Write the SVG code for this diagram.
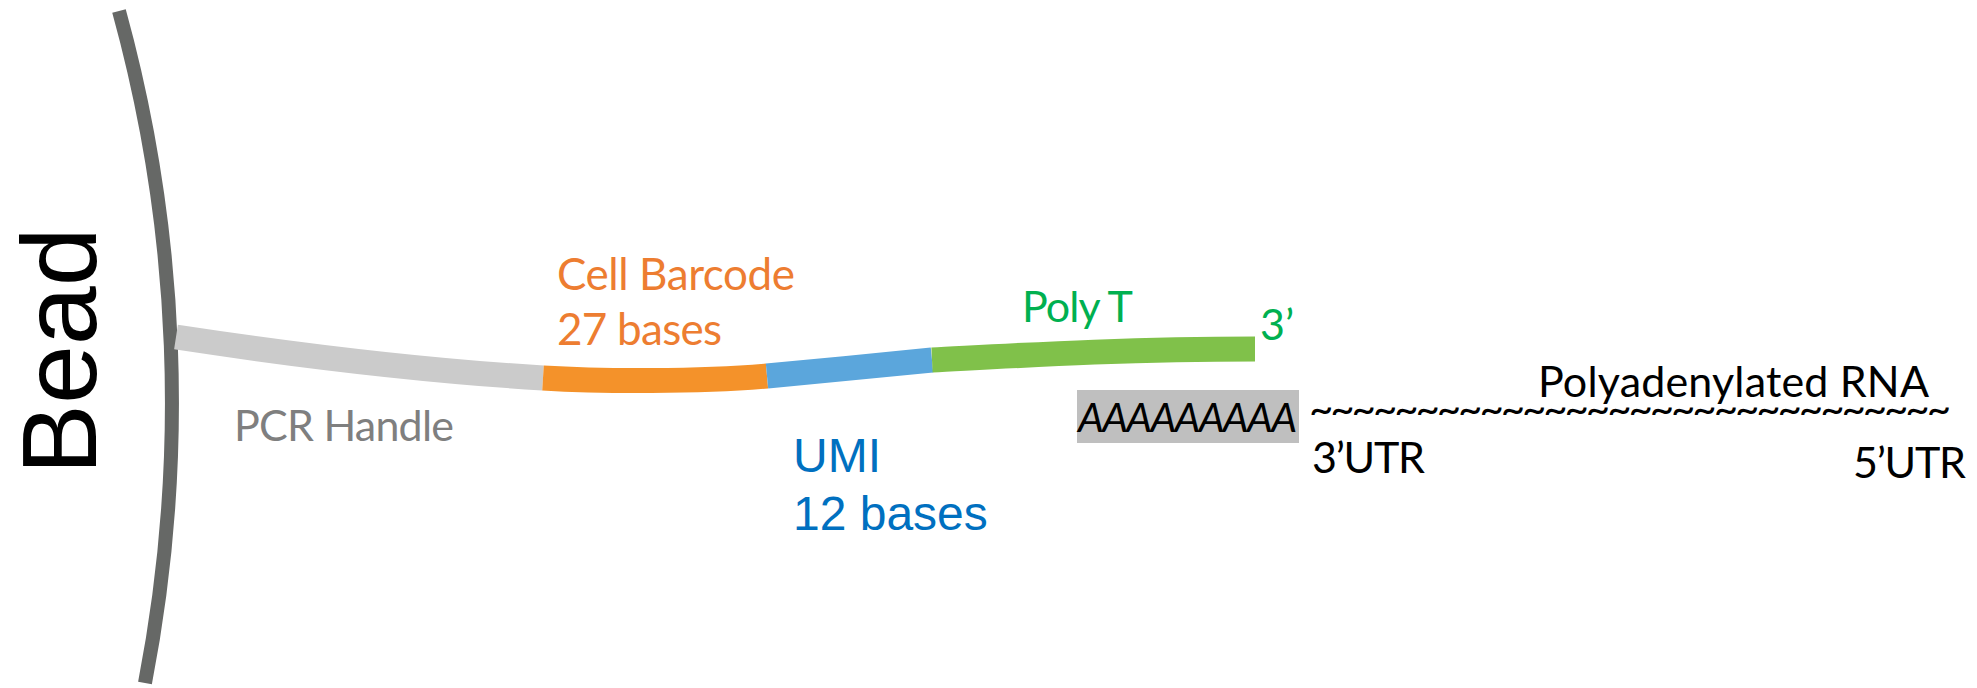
<svg xmlns="http://www.w3.org/2000/svg" width="1977" height="688" viewBox="0 0 1977 688">
  <style>
    .seg { fill: none; stroke-width: 25; stroke-linecap: butt; }
    .cal { font-family: Lato, "Open Sans", "Liberation Sans", sans-serif; }
    .ari { font-family: "Liberation Sans", Arial, sans-serif; }
  </style>
  <rect width="1977" height="688" fill="#ffffff"/>
  <g id="bead">
    <path d="M119,11 A1474,1474 0 0 1 145,683" fill="none" stroke="#666866" stroke-width="14"/>
    <text class="ari" transform="translate(96,351) rotate(-90)" text-anchor="middle" font-size="106" fill="#000000">Bead</text>
  </g>
  <g id="connectors">
    <path class="seg" d="M176,337 Q380,368 543,378" stroke="#cbcbcb"/>
    <path class="seg" d="M543,378 C600,381.5 700,382 767,376" stroke="#f4922a"/>
    <path class="seg" d="M767,376 C820,371.2 880,365 932,360" stroke="#5ba6dc"/>
    <path class="seg" d="M932,360 C1010,356 1120,349 1255,349" stroke="#80c14a"/>
  </g>
  <g id="pcr-handle">
    <text class="cal" x="234" y="441" font-size="43" fill="#7f7f7f" textLength="220">PCR Handle</text>
  </g>
  <g id="cell-barcode">
    <text class="cal" x="557" y="290" font-size="44" fill="#ed7d31" textLength="238">Cell Barcode</text>
    <text class="cal" x="557" y="345" font-size="44" fill="#ed7d31" textLength="165">27 bases</text>
  </g>
  <g id="umi">
    <text class="ari" x="793" y="472" font-size="48" fill="#0070c0">UMI</text>
    <text class="ari" x="793" y="530" font-size="48" fill="#0070c0">12 bases</text>
  </g>
  <g id="poly-t">
    <text class="cal" x="1022" y="322" font-size="43" fill="#00b050" textLength="111">Poly T</text>
    <text class="cal" x="1260" y="340" font-size="43" fill="#00b050">3’</text>
  </g>
  <g id="poly-a">
    <rect x="1077" y="390" width="222" height="53" fill="#bfbfbf"/>
    <text class="cal" x="1078" y="432" font-size="41" font-style="italic" fill="#000000" textLength="219">AAAAAAAAA</text>
  </g>
  <g id="rna">
    <text class="cal" x="1309" y="424" font-size="42" fill="#000000" textLength="642">~~~~~~~~~~~~~~~~~~~~~~~~~~~~~~</text>
    <text class="cal" x="1538" y="397" font-size="43" fill="#000000" textLength="391">Polyadenylated RNA</text>
    <text class="cal" x="1312" y="473" font-size="43" fill="#000000" textLength="113">3’UTR</text>
    <text class="cal" x="1853" y="478" font-size="43" fill="#000000" textLength="113">5’UTR</text>
  </g>
</svg>
